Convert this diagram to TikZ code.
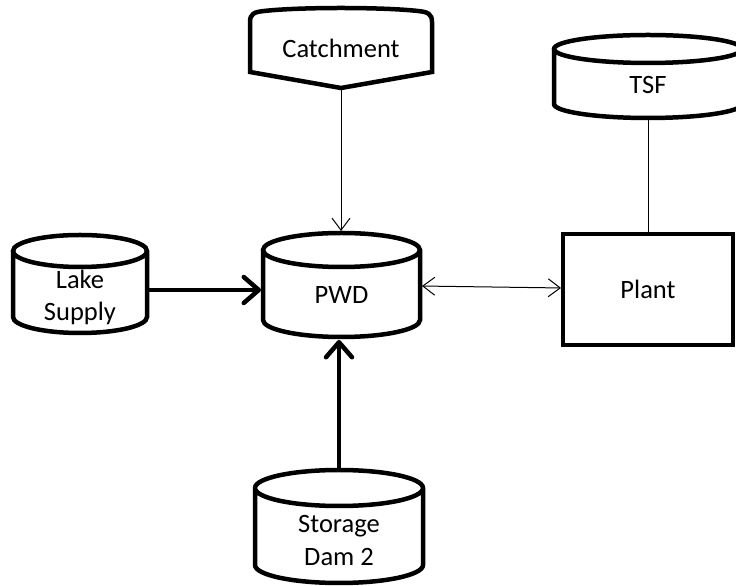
\documentclass[tikz,border=0pt]{standalone}
\usepackage{fontspec}
\setmainfont{Carlito}
\usetikzlibrary{arrows.meta,calc}

\tikzset{
  outline/.style={draw=black, line width=4.5pt},
  shapebox/.style={draw=none, inner sep=0pt, outer sep=0pt},
  caption/.style={inner sep=0pt, align=center, font=\fontsize{26.5}{32}\selectfont},
  thinflow/.style={draw=black, line width=1pt, -{Straight Barb[length=12pt,width=18pt]}},
  thickflow/.style={draw=black, line width=4.5pt, -{Straight Barb[length=15pt,width=26pt,round]}},
  bothflow/.style={draw=black, line width=1pt, {Straight Barb[length=12pt,width=18pt]}-{Straight Barb[length=12pt,width=18pt]}},
  plainlink/.style={draw=black, line width=1pt},
}

% upright cylinder drawn over the bounding box of a named node; #2 is the cap half-height
\newcommand\drawtank[2]{%
  \draw[outline] let \p1=(#1.north west), \p2=(#1.south east), \n1={(\x2-\x1)/2} in
    (\x1,\y1-#2) -- (\x1,\y2+#2)
    arc[start angle=180, end angle=360, x radius=\n1, y radius=#2]
    -- (\x2,\y1-#2)
    (\x1+\n1,\y1-#2) ellipse[x radius=\n1, y radius=#2];
}

\begin{document}
\begin{tikzpicture}[x=1pt,y=1pt]
  \fill[white] (0,0) rectangle (736,586);
  \useasboundingbox (0,0) rectangle (736,586);
  \clip (0,0) rectangle (736,586);

  % shape frames
  \node[shapebox, minimum width=182pt, minimum height=80pt] (catch) at (341,538) {};
  \node[shapebox, minimum width=188pt, minimum height=83pt] (tsf) at (648,509.5) {};
  \node[shapebox, minimum width=134pt, minimum height=98pt] (lake) at (80,302) {};
  \node[shapebox, minimum width=157pt, minimum height=104pt] (pwd) at (341.5,301) {};
  \node[shapebox, minimum width=168pt, minimum height=113pt] (dam) at (339,59.5) {};
  \node[outline, inner sep=0pt, outer sep=0pt, minimum width=170pt, minimum height=111pt] (plant) at (648,296.5) {};

  % catchment outline (off-page style box pointing down)
  \draw[outline] (250,514) -- (250,564)
    .. controls (250,572) and (254,574) .. (264,575)
    .. controls (300,579) and (382,579) .. (418,575)
    .. controls (428,574) and (432,572) .. (432,564)
    -- (432,514) -- (341,498) -- cycle;

  % storage tanks
  \drawtank{tsf}{14pt}
  \drawtank{lake}{16pt}
  \drawtank{pwd}{17pt}
  \drawtank{dam}{18pt}

  % captions
  \node[caption] (catchtext) at (catch.center) {Catchment};
  \node[caption] (tsftext) at ([yshift=-8.5pt]tsf.center) {TSF};
  \node[caption] (laketext) at ([yshift=-13pt]lake.center) {Lake\\Supply};
  \node[caption] (pwdtext) at ([yshift=-10pt]pwd.center) {PWD};
  \node[caption] (damtext) at ([yshift=-14pt]dam.center) {Storage\\Dam 2};
  \node[caption] (planttext) at (plant.center) {Plant};

  % flows
  \draw[thinflow, shorten >=2pt] (catch.south) -- (catch.south |- pwd.north);
  \draw[plainlink, shorten <=2pt] (tsf.south) -- (tsf.south |- plant.north);
  \draw[thickflow, shorten <=2pt, shorten >=2pt] ([yshift=-6pt]lake.east) -- ([yshift=-6pt]lake.east -| pwd.west);
  \draw[thickflow, shorten <=2pt, shorten >=3pt] (dam.north) -- (dam.north |- pwd.south);
  \draw[bothflow, shorten <=2pt, shorten >=2pt] ([yshift=-1pt]pwd.east) -- ([yshift=1.5pt]plant.west);
\end{tikzpicture}
\end{document}
